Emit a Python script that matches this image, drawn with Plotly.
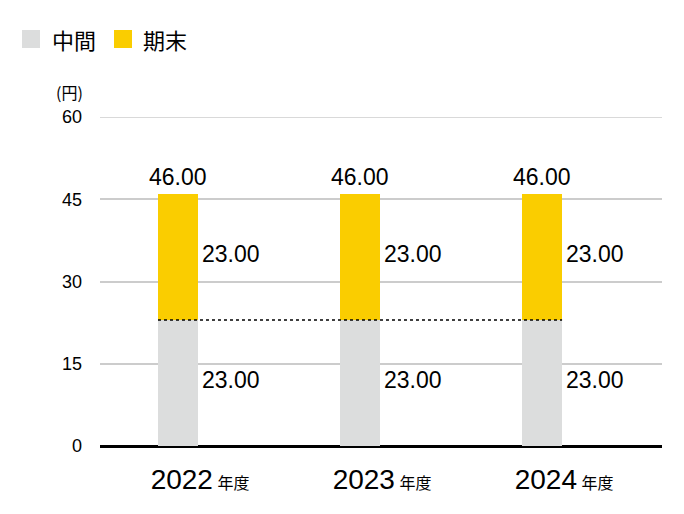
import plotly.graph_objects as go

years = ["2022", "2023", "2024"]
interim = [23.00, 23.00, 23.00]
final = [23.00, 23.00, 23.00]
totals = [46.00, 46.00, 46.00]
yticks = [0, 15, 30, 45, 60]

GREY = "#DCDDDD"
YELLOW = "#FACD00"
FONT = "Liberation Sans, Helvetica, Arial, Noto Sans CJK JP, sans-serif"
JP = "Noto Sans CJK JP, sans-serif"

xs = list(range(len(years)))
bw = 0.22

fig = go.Figure()
fig.add_trace(go.Bar(x=xs, y=interim, width=bw, marker=dict(color=GREY, line=dict(width=0)),
                     name="中間", showlegend=False))
fig.add_trace(go.Bar(x=xs, y=final, width=bw, marker=dict(color=YELLOW, line=dict(width=0)),
                     name="期末", showlegend=False))

# dashed line at interim level
fig.add_trace(go.Scatter(x=[xs[0] - bw / 2, xs[-1] + bw / 2], y=[interim[0], interim[-1]],
                         mode="lines", line=dict(color="#000000", width=1.5, dash="3px,3px"),
                         showlegend=False, hoverinfo="skip"))

ann = []
for i in xs:
    ann.append(dict(x=i, y=totals[i], text=f"{totals[i]:.2f}", showarrow=False,
                    yanchor="bottom", xanchor="center", yshift=2,
                    font=dict(size=23, color="#000", family=FONT)))
    ann.append(dict(x=i + bw / 2, y=interim[i] + final[i] / 2, text=f"{final[i]:.2f}",
                    showarrow=False, xanchor="left", yanchor="middle", xshift=2, yshift=3,
                    font=dict(size=23, color="#000", family=FONT)))
    ann.append(dict(x=i + bw / 2, y=interim[i] / 2, text=f"{interim[i]:.2f}",
                    showarrow=False, xanchor="left", yanchor="middle", xshift=2, yshift=3,
                    font=dict(size=23, color="#000", family=FONT)))

# unit label
ann.append(dict(xref="paper", yref="paper", x=(69 - 100) / 562, y=(446 - 92) / 329,
                text="(円)", showarrow=False, xanchor="center", yanchor="middle",
                font=dict(size=16, color="#000", family=JP)))
# legend texts
ann.append(dict(xref="paper", yref="paper", x=(50 - 100) / 562, y=(446 - 39) / 329,
                text="中間", showarrow=False, xanchor="left", yanchor="middle",
                font=dict(size=22, color="#000", family=JP)))
ann.append(dict(xref="paper", yref="paper", x=(141 - 100) / 562, y=(446 - 39) / 329,
                text="期末", showarrow=False, xanchor="left", yanchor="middle",
                font=dict(size=22, color="#000", family=JP)))

shapes = []
for x0, c in [(22, GREY), (114, YELLOW)]:
    shapes.append(dict(type="rect", xref="paper", yref="paper",
                       x0=(x0 - 100) / 562, x1=(x0 + 18 - 100) / 562,
                       y0=(446 - 48) / 329, y1=(446 - 30) / 329,
                       fillcolor=c, line=dict(width=0)))
# top gridline (edge gridline not drawn by plotly)
shapes.append(dict(type="line", xref="paper", yref="y", x0=0, x1=1, y0=yticks[-1], y1=yticks[-1],
                   line=dict(color="#CCCCCC", width=1.5), layer="below"))

ticktext = [f"{y}<span style='font-size:16px'> 年度</span>" for y in years]

# page body has an 8px default margin; compensate so plot area sits at 100..662 x 117..446
fig.update_layout(
    width=684, height=514,
    margin=dict(l=92, r=30, t=109, b=76),
    paper_bgcolor="white", plot_bgcolor="white",
    barmode="stack", bargap=0,
    annotations=ann, shapes=shapes,
    font=dict(family=FONT, color="#000"),
    xaxis=dict(range=[-0.4286, 2.659], tickvals=xs, ticktext=ticktext,
               tickfont=dict(size=28, family=FONT, color="#000"),
               ticklabelstandoff=14, ticklabelshift=22,
               showgrid=False, zeroline=False, showline=False, ticks=""),
    yaxis=dict(range=[0, 60], tickvals=yticks, tickfont=dict(size=18, family=FONT, color="#000"),
               showgrid=True, gridcolor="#CCCCCC", gridwidth=1.5, zeroline=True,
               zerolinecolor="#000", zerolinewidth=2.5, ticks="", ticklabelstandoff=17,
               showline=False),
)

fig.write_html("out.html")
